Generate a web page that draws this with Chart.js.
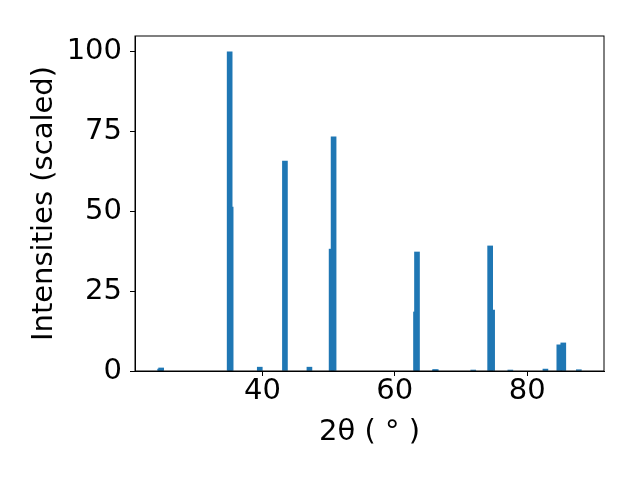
<!DOCTYPE html>
<html>
<head>
<meta charset="utf-8">
<script src="https://cdn.jsdelivr.net/npm/chart.js@4.4.0/dist/chart.umd.min.js"></script>
<style>
  html, body { margin: 0; padding: 0; background: #fff; }
  canvas { display: block; }
</style>
</head>
<body>
<canvas id="xrd" width="640" height="480"></canvas>
<script>
// peak positions (2theta, degrees) and scaled intensities
const twoTheta = [24.55, 24.70, 35.05, 35.20, 39.60, 43.40, 47.10, 50.45, 50.75,
                  63.20, 63.35, 66.05, 66.20, 71.85, 74.40, 74.70, 77.45, 82.75,
                  84.85, 85.45, 87.80];
const intensity = [0.6, 0.95, 100, 51.4, 1.2, 65.8, 1.2, 38.2, 73.4,
                   18.5, 37.3, 0.4, 0.4, 0.3, 39.2, 19.1, 0.3, 0.6,
                   8.2, 8.8, 0.4];
const xTicks = [40, 60, 80];
const yTicks = [0, 25, 50, 75, 100];

const FONT = { family: 'DejaVu Sans', size: 29 };

// top and right spines
const frame = {
    id: 'frame',
    afterDraw(chart) {
        const { ctx, chartArea: a } = chart;
        ctx.save();
        ctx.strokeStyle = '#000';
        ctx.lineWidth = 1;
        ctx.strokeRect(a.left, a.top, a.right - a.left, a.bottom - a.top);
        ctx.restore();
    }
};

const data = {
    datasets: [{
        label: 'pattern',
        data: twoTheta.map((x, i) => ({ x: x, y: intensity[i] })),
        backgroundColor: '#1f77b4',
        borderWidth: 0,
        barThickness: 5
    }]
};

const config = {
    type: 'bar',
    data: data,
    options: {
        responsive: false,
        animation: false,
        layout: { padding: { left: 0, top: 36, right: 36, bottom: 0 } },
        plugins: {
            legend: { display: false },
            tooltip: { enabled: false }
        },
        scales: {
            x: {
                type: 'linear',
                offset: false,
                min: 20.75,
                max: 91.6,
                afterBuildTicks: (s) => { s.ticks = xTicks.map(v => ({ value: v })); },
                afterFit: (s) => { s.height = 109; },
                grid: { offset: false, drawOnChartArea: false, drawTicks: true, tickLength: 5, color: '#000' },
                border: { display: true, color: '#000', width: 1 },
                ticks: { color: '#000', font: FONT, padding: -2, maxRotation: 0 },
                title: { display: true, text: '2θ ( ° )', color: '#000', font: FONT, padding: { top: 0, bottom: 30 } }
            },
            y: {
                min: 0,
                max: 105,
                afterBuildTicks: (s) => { s.ticks = yTicks.map(v => ({ value: v })); },
                afterFit: (s) => { s.width = 135; },
                grid: { drawOnChartArea: false, drawTicks: true, tickLength: 5, color: '#000' },
                border: { display: true, color: '#000', width: 1 },
                ticks: { color: '#000', font: FONT, padding: 8 },
                title: { display: true, text: 'Intensities (scaled)', color: '#000', font: FONT, padding: { top: 27, bottom: 0 } }
            }
        }
    },
    plugins: [frame]
};

var chart = new Chart(document.getElementById('xrd'), config);
</script>
</body>
</html>
